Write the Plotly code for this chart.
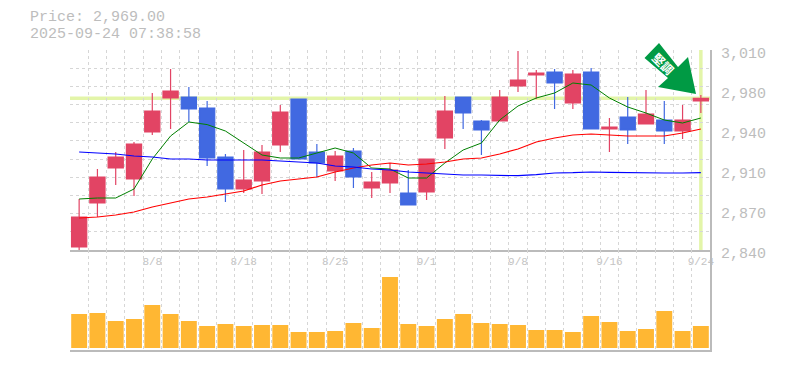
import plotly.graph_objects as go

dates = ["8/1","8/4","8/5","8/6","8/8","8/12","8/13","8/14","8/15","8/18","8/19","8/20","8/21","8/22","8/25","8/26","8/27","8/28","8/29","9/1","9/2","9/3","9/4","9/5","9/8","9/9","9/10","9/11","9/12","9/16","9/17","9/18","9/19","9/22","9/24"]
labelled = ["8/8","8/18","8/25","9/1","9/8","9/16","9/24"]

opens = [2842.55,2879.95,2909.7,2900.35,2940.3,2969.2,2970.05,2960.7,2919.05,2891.85,2898.65,2929.25,2968.35,2923.3,2907.15,2924.15,2892.7,2896.95,2888.45,2889.3,2935.2,2970.05,2949.65,2949.65,2979.4,2988.75,2991.3,2964.95,2991.3,2942.85,2953.05,2947.1,2950.5,2941.15,2966.65]
closes = [2868.05,2902.05,2919.05,2930.1,2958.15,2975.15,2959.85,2918.2,2891.85,2899.5,2923.3,2957.3,2917.35,2913.95,2919.9,2902.05,2897.8,2908.0,2878.25,2917.35,2958.15,2956.45,2942.0,2970.05,2984.5,2990.45,2981.95,2989.6,2942.85,2944.55,2942.0,2955.6,2941.15,2950.5,2969.0]
highs = [2883.35,2908.85,2923.3,2931.8,2973.45,2993.85,2978.55,2966.65,2921.6,2925.0,2929.25,2963.25,2968.35,2930.1,2924.15,2926.7,2906.3,2913.95,2908.0,2917.35,2970.9,2970.05,2950.5,2976.0,3009.15,2993.0,2993.85,2993.0,2994.7,2952.2,2970.05,2976.0,2966.65,2963.25,2971.75]
lows = [2839.15,2868.05,2895.25,2885.9,2937.75,2942.85,2948.8,2911.4,2880.8,2888.45,2887.6,2923.3,2917.35,2902.05,2898.65,2892.7,2884.2,2888.45,2878.25,2882.5,2925.85,2942.85,2920.75,2949.65,2974.3,2968.35,2959.85,2959.85,2942.85,2923.3,2930.1,2947.1,2930.1,2934.35,2956.45]

ma_short = [2883.35,2884.2,2884.2,2891.85,2917.35,2936.9,2948.8,2946.6,2941.15,2930.95,2920.75,2918.2,2918.2,2922.45,2926.7,2922.45,2909.7,2908.85,2901.2,2901.2,2913.95,2925.0,2930.95,2950.5,2962.4,2969.2,2973.45,2981.95,2980.25,2969.2,2961.55,2956.45,2950.5,2947.95,2952.2]
ma_mid = [2867.2,2868.05,2869.75,2872.3,2876.55,2879.95,2883.35,2885.05,2887.6,2890.15,2895.25,2898.65,2900.35,2902.05,2906.3,2909.7,2912.25,2913.95,2912.25,2913.1,2914.8,2917.35,2918.2,2921.6,2925.85,2931.8,2935.2,2937.75,2938.6,2937.75,2936.9,2936.9,2936.9,2939.45,2942.85]
ma_long = [2923.3,2922.45,2921.6,2919.9,2919.05,2917.35,2917.35,2916.5,2916.5,2916.5,2916.5,2915.65,2914.8,2913.95,2911.4,2910.55,2908.85,2908.0,2906.3,2905.45,2904.6,2903.75,2903.75,2903.75,2903.15,2904.0,2905.45,2905.7,2906.3,2906.0,2905.7,2905.45,2905.45,2905.45,2905.7]

volumes = [34000,35000,27000,29000,43000,34000,27000,22000,24000,22000,23000,23000,16000,16000,17000,25000,20000,71000,24000,22000,29000,34000,25000,24000,23000,18000,18000,16000,32000,26000,17000,19000,37000,17000,22000]

last_price = 2969.0
price_label_vals = [3010,2976,2942,2908,2874,2840]
price_label_text = ["3,010","2,980","2,940","2,910","2,870","2,840"]
title_lines = ["Price: 2,969.00","2025-09-24 07:38:58"]

W, H = 785, 370
L, R, T, B = 70, 75, 50, 20
PW, PH = W-L-R, H-T-B
def px(x): return (x-L)/PW
def py(y): return 1-(y-T)/PH

GRID = "#d6d6d6"; AXIS = "#bbbbbb"; TXT = "#bdbdbd"; RED = "#e24464"; BLUE = "#4169e1"; HI = "#e3f5a9"
MONO = "Liberation Mono, monospace"
DASH = "3px,3px"

fig = go.Figure()
# label axis sits first so that it is drawn underneath the price panel
fig.add_trace(go.Scatter(x=dates[:1], y=[last_price], mode="markers", marker=dict(opacity=0),
    showlegend=False, xaxis="x3", yaxis="y3", hoverinfo="skip"))
for vals, c, w in [(ma_short, "#008000", 1), (ma_mid, "#ff0000", 1.2), (ma_long, "#0000ff", 1.2)]:
    fig.add_trace(go.Scatter(x=dates, y=vals, mode="lines", line=dict(color=c, width=w),
        showlegend=False, xaxis="x", yaxis="y", cliponaxis=False))
fig.add_trace(go.Candlestick(x=dates, open=opens, high=highs, low=lows, close=closes,
    increasing=dict(line=dict(color=RED, width=1.2), fillcolor=RED),
    decreasing=dict(line=dict(color=BLUE, width=1.2), fillcolor=BLUE),
    whiskerwidth=0, showlegend=False, xaxis="x", yaxis="y"))
fig.add_trace(go.Bar(x=dates, y=volumes, marker=dict(color="#ffb733", line=dict(width=0)),
    width=0.87, showlegend=False, xaxis="x2", yaxis="y2"))

sep = py(250)
grid_x = dict(type="category", categoryorder="array", categoryarray=dates, tickmode="array",
    tickvals=dates, tickson="boundaries", showgrid=True, gridcolor=GRID, griddash=DASH, gridwidth=1,
    showline=True, linecolor=AXIS, linewidth=1.5, ticks="", rangeslider=dict(visible=False), zeroline=False,
    range=[-0.5, len(dates)-0.5])

fig.update_layout(
    width=W, height=H, margin=dict(l=L, r=R, t=T, b=B, pad=0), autosize=False,
    paper_bgcolor="white", plot_bgcolor="rgba(0,0,0,0)", boxgap=0.17, boxgroupgap=0, showlegend=False,
    font=dict(family=MONO, color=TXT),
    xaxis=dict(grid_x, domain=[0,1], anchor="y",
        ticktext=[d if d in labelled else "" for d in dates],
        tickfont=dict(size=11, color="#c4c4c4", family=MONO), tickangle=0),
    xaxis2=dict(grid_x, domain=[0,1], anchor="y2", showticklabels=False),
    xaxis3=dict(domain=[0,1], anchor="y3", visible=False, type="category", categoryorder="array", categoryarray=dates),
    yaxis=dict(domain=[sep,1], range=[2840,3010], anchor="x", side="right", tick0=2840, dtick=170/11,
        showgrid=True, gridcolor=GRID, griddash=DASH, gridwidth=1, showticklabels=False, ticks="",
        showline=True, linecolor=AXIS, linewidth=1.5, zeroline=False),
    yaxis2=dict(domain=[0,sep], range=[-2000,98000], anchor="x2", side="right", showgrid=False,
        showticklabels=False, ticks="", showline=True, linecolor=AXIS, linewidth=1.5, zeroline=False),
    yaxis3=dict(domain=[py(260),1], range=[2834.05,3012.55], anchor="x3",
        side="right", showgrid=False, showline=False, zeroline=False, tickmode="array",
        tickvals=price_label_vals, ticktext=price_label_text, ticks="outside", ticklen=7, tickcolor="rgba(0,0,0,0)",
        tickfont=dict(size=15, color=TXT, family=MONO)),
    shapes=[
        dict(type="line", layer="below", xref="x domain", yref="y", x0=0, x1=1, y0=last_price, y1=last_price,
             line=dict(color=HI, width=3.5)),
        dict(type="line", layer="below", xref="x", yref="y domain", x0=dates[-1], x1=dates[-1], y0=0, y1=1,
             line=dict(color=HI, width=3.5)),
        dict(type="path", xref="paper", yref="paper", layer="above", fillcolor="#009a44", line=dict(width=0),
             path="M {} {} L {} {} L {} {} L {} {} L {} {} L {} {} L {} {} Z".format(
                 px(659),py(43), px(644.5),py(58), px(668),py(78), px(658),py(87),
                 px(696),py(94), px(688),py(57), px(678),py(67))),
    ],
    annotations=[
        dict(text=title_lines[0], xref="paper", yref="paper", x=px(28), y=py(18), xanchor="left", yanchor="middle",
             showarrow=False, font=dict(size=15, color=TXT, family=MONO)),
        dict(text=title_lines[1], xref="paper", yref="paper", x=px(28), y=py(35), xanchor="left", yanchor="middle",
             showarrow=False, font=dict(size=15, color=TXT, family=MONO)),
        dict(text="<b>堅調</b>", xref="paper", yref="paper", x=px(664), y=py(63), xanchor="center", yanchor="middle",
             textangle=45, showarrow=False, font=dict(size=12, color="white", family="Noto Sans CJK JP")),
    ],
)
fig.write_html("out.html", post_script="document.body.style.margin='0';", config={"displayModeBar": False})
